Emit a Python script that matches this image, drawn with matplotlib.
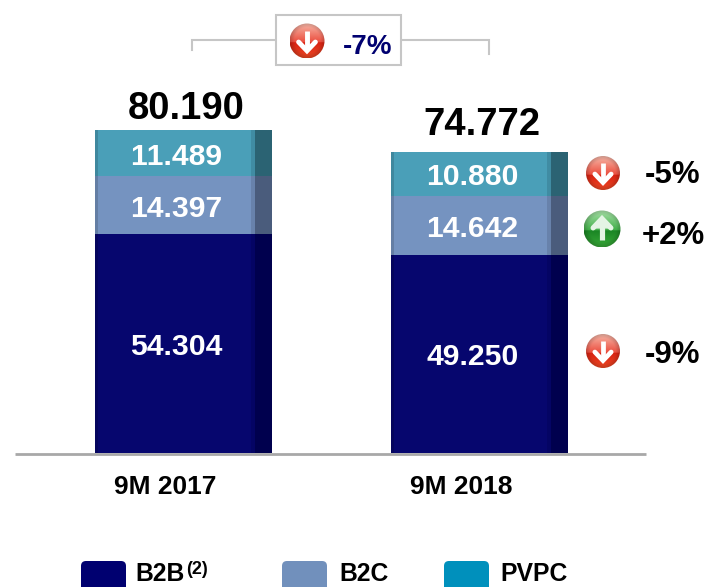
import numpy as np
import matplotlib
matplotlib.use("Agg")
import matplotlib.pyplot as plt
from matplotlib.patches import Circle, Rectangle, FancyBboxPatch, Polygon

plt.rcParams['font.family'] = ['Liberation Sans', 'DejaVu Sans']
plt.rcParams['font.weight'] = 'bold'
plt.rcParams['text.kerning_factor'] = 6

periods = ["9M 2017", "9M 2018"]
b2b = [54304, 49250]
b2c = [14397, 14642]
pvpc = [11489, 10880]
totals = [80190, 74772]
series_names = ["B2B", "B2C", "PVPC"]
seg_changes = ["-9%", "+2%", "-5%"]
total_change = "-7%"

W, H = 706, 587
fig = plt.figure(figsize=(W / 100, H / 100), dpi=100)
fig.patch.set_facecolor('white')

# data axes: full figure, scaled so the baseline lands at 453 px
k = 323 / 80190
base_px, c0, step = 453, 183.5, 296
ax = fig.add_axes([0, 0, 1, 1])
ax.set_xlim(-c0 / step, (W - c0) / step)
ax.set_ylim((base_px - H) / k, base_px / k)
ax.axis('off')

# overlay axes in pixel coordinates
px = fig.add_axes([0, 0, 1, 1], zorder=5)
px.set_xlim(0, W)
px.set_ylim(H, 0)
px.axis('off')
px.patch.set_alpha(0)

x = np.arange(2)
bw = 177 / step
strip = 17 / step
soft = 4 / step
edge = 3 / step
colors = ['#06066E', '#7593C0', '#4A9FB8']
darks = ['#00004E', '#4A5C7C', '#2B6373']
legend_cols = ['#000070', '#7190BC', '#0090BC']

bottom = np.zeros(2)
for vals, col, dk in zip([b2b, b2c, pvpc], colors, darks):
    vals = np.array(vals)
    ax.bar(x, vals, bw, bottom=bottom, color=col, linewidth=0, zorder=2)
    ax.bar(x + bw / 2 - strip / 2, vals, strip, bottom=bottom, color=dk, linewidth=0, zorder=3)
    ax.bar(x + bw / 2 - strip - soft / 2, vals, soft, bottom=bottom, color=dk, alpha=0.3, linewidth=0, zorder=3)
    ax.bar(x - bw / 2 + edge / 2, vals, edge, bottom=bottom, color='black', alpha=0.14, linewidth=0, zorder=3)
    for xi, b, v in zip(x, bottom, vals):
        ax.annotate(f"{v:,}".replace(",", "."), (xi, b + v / 2), xytext=(-5, -2.5),
                    textcoords='offset points', ha='center', va='center',
                    color='white', fontsize=21.7, fontweight='bold', zorder=4)
    bottom = bottom + vals

total_gaps = [2, 6]
for xi, t, g in zip(x, totals, total_gaps):
    ax.annotate(f"{t:,}".replace(",", "."), (xi, t), xytext=(2, g), textcoords='offset points',
                ha='center', va='bottom', color='black', fontsize=27.5, fontweight='bold', zorder=4)

# baseline
px.plot([15, 646], [453.5, 453.5], color='#A8A8A8', lw=2.0, solid_capstyle='butt')

for xi, p in zip(x, periods):
    ax.annotate(p, (xi, 0), xytext=(-13, -16), textcoords='offset points', ha='center',
                va='top', fontsize=19, fontweight='bold', color='black')


def icon(cx, cy, r, kind):
    n = 80
    yy = np.linspace(-1, 1, n)[:, None]
    xx = np.linspace(-1, 1, n)[None, :]
    rr = np.sqrt(xx ** 2 + yy ** 2)
    img = np.zeros((n, n, 3))
    if kind == 'down':
        top_a, top_b = np.array([.97, .72, .66]), np.array([.92, .30, .24])
        bot_a, bot_b = np.array([.84, .13, .07]), np.array([.93, .28, .14])
    else:
        top_a, top_b = np.array([.66, .88, .66]), np.array([.25, .68, .28])
        bot_a, bot_b = np.array([.10, .52, .14]), np.array([.22, .66, .22])
    for i, y in enumerate(yy[:, 0]):
        if y < 0.1:
            t = (y + 1) / 1.1
            img[i, :] = top_a * (1 - t) + top_b * t
        else:
            t = (y - 0.1) / 0.9
            img[i, :] = bot_a * (1 - t) + bot_b * t
    img = img * (1 - 0.18 * np.clip(rr - 0.75, 0, 1)[..., None] * 4).clip(0, 1)
    im = px.imshow(img, extent=(cx - r, cx + r, cy + r, cy - r), aspect='auto', zorder=6)
    im.set_clip_path(Circle((cx, cy), r, transform=px.transData))
    s = 1 if kind == 'down' else -1
    lw = r * 0.28 * 0.72
    wc = 'white' if kind == 'down' else '#E4F4E4'
    px.plot([cx, cx], [cy - s * .58 * r, cy + s * .5 * r], color=wc, lw=lw,
            solid_capstyle='butt', zorder=7)
    px.plot([cx - .48 * r, cx, cx + .48 * r], [cy + s * .06 * r, cy + s * .56 * r, cy + s * .06 * r],
            color=wc, lw=lw, solid_capstyle='round', solid_joinstyle='miter', zorder=7)
    if kind == 'up':
        px.add_patch(Polygon([(cx - .5 * r, cy - .06 * r), (cx, cy - .58 * r), (cx + .5 * r, cy - .06 * r)],
                             closed=True, color=wc, zorder=7))


# bracket and total change box
grey = '#C6C6C6'
px.plot([192, 192, 275], [50, 39.5, 39.5], color=grey, lw=1.5, solid_joinstyle='miter')
px.plot([401, 489, 489], [39.5, 39.5, 54], color=grey, lw=1.5, solid_joinstyle='miter')
px.add_patch(Rectangle((275.5, 14.5), 125, 50, fc='white', ec=grey, lw=1.5, zorder=3))
icon(307, 41, 17.5, 'down')
px.text(392, 47, total_change, ha='right', va='center', fontsize=20, fontweight='bold',
        color='#000070', zorder=7)

# segment changes
kinds = ['down', 'up', 'down']
icon_y = [351, 229, 173]
text_y = [355, 236, 175]
icon_x = [603, 602, 603]
radii = [17, 18.5, 17]
for lab, kd, iy, ty, ix, r in zip(seg_changes, kinds, icon_y, text_y, icon_x, radii):
    icon(ix, iy, r, kd)
    px.text(700 if kd == 'down' else 705, ty, lab, ha='right', va='center', fontsize=22.5,
            fontweight='bold', color='black', zorder=7)

# legend
sw_x = [81, 282, 444]
tx_x = [135, 339.5, 500]
for name, col, sx, tx in zip(series_names, legend_cols, sw_x, tx_x):
    px.add_patch(FancyBboxPatch((sx + 3, 564), 39, 40, boxstyle="round,pad=3,rounding_size=5",
                                fc=col, ec='none', clip_on=True))
    px.text(tx, 581, name, ha='left', va='baseline', fontsize=17.8, fontweight='bold', color='black')
px.text(186, 569, "(2)", ha='left', va='center', fontsize=13, fontweight='bold', color='black')

px.set_xlim(0, W)
px.set_ylim(H, 0)
fig.savefig("out.png", dpi=100, facecolor='white')
